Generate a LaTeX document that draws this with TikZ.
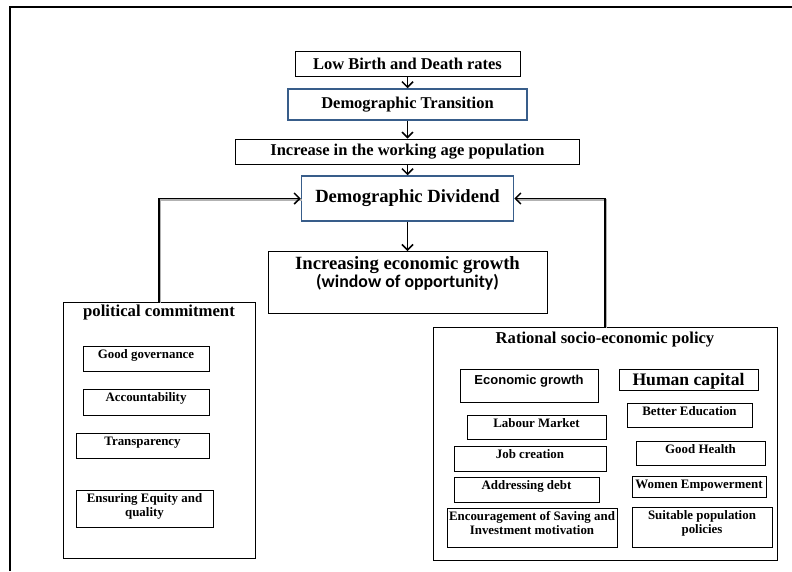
\documentclass[tikz,border=0pt]{standalone}
\usepackage{fontspec}
\usepackage{xcolor}
\usepackage{tikz}
\usetikzlibrary{arrows.meta}

\setmainfont{Liberation Serif}
\newfontfamily\arialfont{Liberation Sans}
\newfontfamily\calibrifont{Carlito}
\definecolor{boxblue}{RGB}{56,93,138}

\begin{document}
\begin{tikzpicture}[
    x=1pt, y=-1pt,
    mainbox/.style={draw, line width=0.8pt, inner sep=0pt,
        font=\fontsize{16.5}{18}\selectfont\bfseries},
    bluebox/.style={mainbox, draw=boxblue, line width=1.5pt},
    groupbox/.style={draw, line width=0.8pt, anchor=north, inner xsep=0pt,
        inner ysep=2pt, align=center},
    itembox/.style={draw, line width=0.6pt, anchor=north, inner xsep=0pt,
        inner ysep=2pt, text height=10.2pt, align=center,
        font=\fontsize{12.9}{14}\selectfont\bfseries},
    flow/.style={line width=1.5pt, -{Straight Barb[length=5.5pt,width=11pt,line width=1.5pt]}},
    shadowed/.style={preaction={draw=black!30, -, line width=1.4pt,
        transform canvas={xshift=1.3pt, yshift=-1.3pt}}}
]
    \useasboundingbox (0,0) rectangle (792,571);
    \draw[line width=2.5pt] (10,571) -- (10,7) -- (792,7);

    % main chain
    \node[mainbox, minimum width=225, minimum height=25] (births) at (407.5,63.5) {Low Birth and Death rates};
    \node[bluebox, minimum width=239, minimum height=31] (transition) at (407.5,104.5) {Demographic Transition};
    \node[mainbox, minimum width=344, minimum height=25] (workage) at (407.5,151.5) {Increase in the working age population};
    \node[bluebox, minimum width=212, minimum height=45,
        font=\fontsize{18.6}{20}\selectfont\bfseries] (dividend) at (407.5,198.5) {Demographic Dividend};
    \node[groupbox, minimum width=279, text height=34.5pt, text depth=23.5pt,
        font=\fontsize{18.7}{17}\selectfont\bfseries] (growth) at (407.5,251)
        {Increasing economic growth\\{\calibrifont\fontsize{17.8}{19}\selectfont (window of opportunity)}};

    \draw[flow] (births) -- (transition);
    \draw[flow] (transition) -- (workage);
    \draw[flow] (workage) -- (dividend);
    \draw[flow] (dividend) -- (growth);

    % political side
    \node[groupbox, minimum width=192, text height=12.3pt, text depth=239.7pt,
        font=\fontsize{16.7}{18}\selectfont\bfseries] (commit) at (159,302) {political commitment};
    \node[itembox, minimum width=126, text depth=10.8pt] (governance) at (146,346) {Good governance};
    \node[itembox, minimum width=126, text depth=11.8pt] (account) at (146,389) {Accountability};
    \node[itembox, minimum width=133, text depth=10.8pt] (transparency) at (142.5,433) {Transparency};
    \node[itembox, minimum width=137, text height=24.2pt, text depth=8.8pt] (equity) at (144.5,490) {Ensuring Equity and\\quality};

    % policy side
    \node[groupbox, minimum width=344, text height=14pt, text depth=215pt,
        font=\fontsize{16.6}{18}\selectfont\bfseries] (policy) at (605,327) {Rational socio-economic policy};
    \node[itembox, minimum width=138, text height=13pt, text depth=16pt,
        font=\arialfont\fontsize{13}{15}\selectfont\bfseries] (econ) at (529,369) {Economic growth};
    \node[itembox, minimum width=139, text height=13.9pt, text depth=3.1pt,
        font=\fontsize{17.6}{19}\selectfont\bfseries] (human) at (688.5,369) {Human capital};
    \node[itembox, minimum width=125, text depth=9.8pt] (education) at (689.5,403) {Better Education};
    \node[itembox, minimum width=139, text depth=9.8pt] (labour) at (536.5,415) {Labour Market};
    \node[itembox, minimum width=129, text depth=9.8pt] (health) at (700.5,441) {Good Health};
    \node[itembox, minimum width=152, text depth=10.8pt] (jobs) at (530,446) {Job creation};
    \node[itembox, minimum width=134, text depth=6.8pt] (women) at (699,476) {Women Empowerment};
    \node[itembox, minimum width=145, text depth=10.8pt] (debt) at (526.5,477) {Addressing debt};
    \node[itembox, minimum width=170, text height=24.2pt, text depth=10.8pt] (saving) at (532,508) {Encouragement of Saving and\\Investment motivation};
    \node[itembox, minimum width=140, text height=24.2pt, text depth=11.8pt] (popul) at (702,507) {Suitable population\\policies};

    \draw[flow, shadowed] (commit.north) |- (dividend.west);
    \draw[flow, shadowed] (policy.north) |- (dividend.east);
\end{tikzpicture}
\end{document}
